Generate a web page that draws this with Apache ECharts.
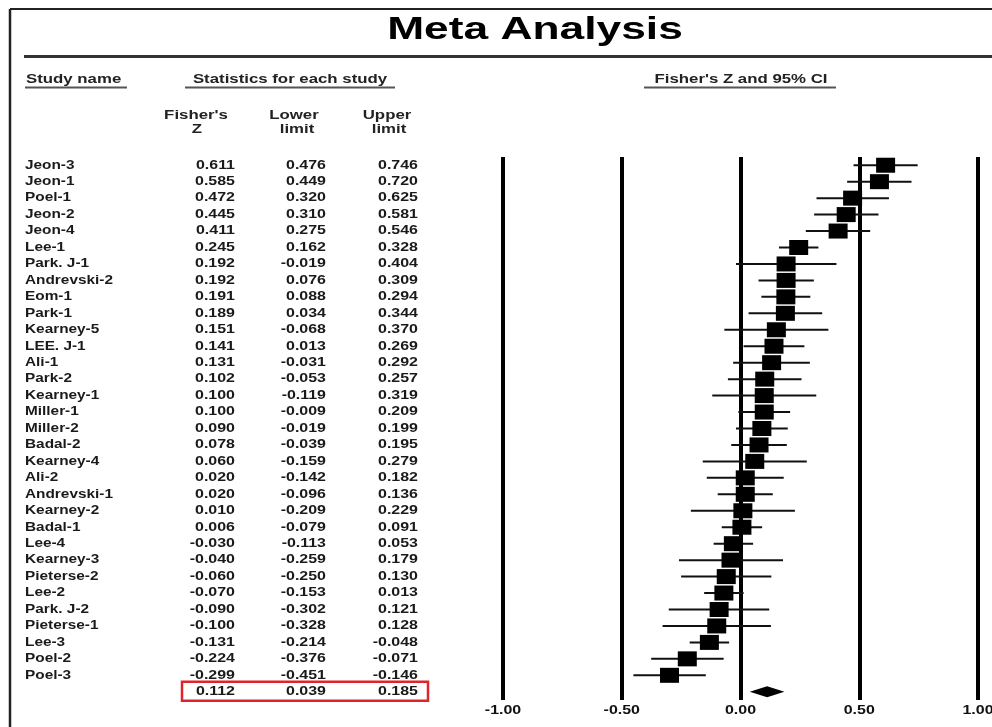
<!DOCTYPE html>
<html><head><meta charset="utf-8">
<script src="https://cdn.jsdelivr.net/npm/echarts@6/dist/echarts.min.js"></script>
<style>html,body{margin:0;padding:0;background:#fff}#c{width:992px;height:727px}</style>
</head><body><div id="c"></div>
<script>
// ---- data ----
const studies = ['Jeon-3','Jeon-1','Poel-1','Jeon-2','Jeon-4','Lee-1','Park. J-1','Andrevski-2','Eom-1','Park-1',
  'Kearney-5','LEE. J-1','Ali-1','Park-2','Kearney-1','Miller-1','Miller-2','Badal-2','Kearney-4','Ali-2',
  'Andrevski-1','Kearney-2','Badal-1','Lee-4','Kearney-3','Pieterse-2','Lee-2','Park. J-2','Pieterse-1','Lee-3',
  'Poel-2','Poel-3'];
const fisherZ = [0.611,0.585,0.472,0.445,0.411,0.245,0.192,0.192,0.191,0.189,
  0.151,0.141,0.131,0.102,0.100,0.100,0.090,0.078,0.060,0.020,
  0.020,0.010,0.006,-0.030,-0.040,-0.060,-0.070,-0.090,-0.100,-0.131,
  -0.224,-0.299];
const lowerLimit = [0.476,0.449,0.320,0.310,0.275,0.162,-0.019,0.076,0.088,0.034,
  -0.068,0.013,-0.031,-0.053,-0.119,-0.009,-0.019,-0.039,-0.159,-0.142,
  -0.096,-0.209,-0.079,-0.113,-0.259,-0.250,-0.153,-0.302,-0.328,-0.214,
  -0.376,-0.451];
const upperLimit = [0.746,0.720,0.625,0.581,0.546,0.328,0.404,0.309,0.294,0.344,
  0.370,0.269,0.292,0.257,0.319,0.209,0.199,0.195,0.279,0.182,
  0.136,0.229,0.091,0.053,0.179,0.130,0.013,0.121,0.128,-0.048,
  -0.071,-0.146];
const summaryValues = [0.112, 0.039, 0.185]; // Fisher's Z, lower, upper
const xTicks = [-1, -0.5, 0, 0.5, 1];
const xTickLabels = ['-1.00','-0.50','0.00','0.50','1.00'];

// ---- build ----
const FONT = "'Liberation Sans', Arial, sans-serif";
const SXN = 1.28, SX = 1.33, SXH = 1.4;
const nRows = studies.length + 1;
const rowIdx = Array.from({length:nRows}, (_, i) => i);
const studyData = studies.map((s, i) => [fisherZ[i], lowerLimit[i], upperLimit[i], i]);
const summaryIdx = studies.length;
const summaryData = [[summaryValues[0], summaryValues[1], summaryValues[2], summaryIdx]];

function txt(t, x, y, align, font, sx, fill) {
  return {type:'text', x:x, y:y, scaleX:sx, silent:true,
    style:{text:t, align:align, verticalAlign:'middle', textAlign:align, textVerticalAlign:'middle', font:font, fill:fill||'#1a1a1a'}};
}

const chart = echarts.init(document.getElementById('c'), null, {renderer:'canvas'});
const option = {
  animation:false,
  grid:{left:503, right:14, top:157, height:543},
  xAxis:{type:'value', min:-1, max:1, interval:0.5,
    axisLine:{show:false}, axisTick:{show:false}, axisLabel:{show:false},
    splitLine:{show:true, lineStyle:{color:'#000', width:4}}},
  yAxis:{type:'category', inverse:true, show:false, data:rowIdx},
  graphic:[
    {type:'line', shape:{x1:10,y1:9,x2:992,y2:9}, style:{stroke:'#222', lineWidth:2}},
    {type:'line', shape:{x1:10,y1:9,x2:10,y2:727}, style:{stroke:'#222', lineWidth:2.5}},
    {type:'line', shape:{x1:24,y1:56.5,x2:992,y2:56.5}, style:{stroke:'#333', lineWidth:3}},
    txt('Meta Analysis', 535, 30, 'center', 'bold 31px ' + FONT, 1.43, '#000'),
    txt('Study name', 26, 80, 'left', 'bold 12px ' + FONT, SXH, '#222'),
    txt('Statistics for each study', 290, 80, 'center', 'bold 12px ' + FONT, SXH, '#222'),
    txt("Fisher's Z and 95% CI", 741, 80, 'center', 'bold 12px ' + FONT, SXH, '#222'),
    {type:'line', shape:{x1:25,y1:87.5,x2:127,y2:87.5}, style:{stroke:'#555', lineWidth:2}},
    {type:'line', shape:{x1:185,y1:87.5,x2:395,y2:87.5}, style:{stroke:'#555', lineWidth:2}},
    {type:'line', shape:{x1:644,y1:87.5,x2:836,y2:87.5}, style:{stroke:'#555', lineWidth:2}},
    txt("Fisher's", 196, 116, 'center', 'bold 12px ' + FONT, SXH, '#222'),
    txt('Z', 197, 130, 'center', 'bold 12px ' + FONT, SXH, '#222'),
    txt('Lower', 294, 116, 'center', 'bold 12px ' + FONT, SXH, '#222'),
    txt('limit', 297, 130, 'center', 'bold 12px ' + FONT, SXH, '#222'),
    txt('Upper', 387, 116, 'center', 'bold 12px ' + FONT, SXH, '#222'),
    txt('limit', 389, 130, 'center', 'bold 12px ' + FONT, SXH, '#222')
  ],
  series:[
    { // forest plot markers
      type:'custom', clip:false, silent:true,
      data:studyData, encode:{x:[0,1,2], y:3},
      renderItem:function(params, api){
        const i = api.value(3);
        const c = api.coord([api.value(0), i]);
        const l = api.coord([api.value(1), i]);
        const h = api.coord([api.value(2), i]);
        return {type:'group', children:[
          {type:'line', shape:{x1:l[0], y1:c[1], x2:h[0], y2:c[1]}, style:{stroke:'#111', lineWidth:2}},
          {type:'rect', shape:{x:c[0]-9.5, y:c[1]-7.5, width:19, height:15}, style:{fill:'#000'}}
        ]};
      }
    },
    { // summary diamond
      type:'custom', clip:false, silent:true,
      data:summaryData, encode:{x:[0,1,2], y:3},
      renderItem:function(params, api){
        const i = api.value(3);
        const c = api.coord([api.value(0), i]);
        const l = api.coord([api.value(1), i]);
        const h = api.coord([api.value(2), i]);
        return {type:'polygon', shape:{points:[[l[0],c[1]],[c[0],c[1]-5.5],[h[0],c[1]],[c[0],c[1]+5.5]]}, style:{fill:'#000'}};
      }
    },
    { // table text for studies
      type:'custom', clip:false, silent:true,
      data:studyData, encode:{x:[0,1,2], y:3},
      renderItem:function(params, api){
        const i = api.value(3);
        const y = api.coord([0, i])[1];
        const f = 'bold 12px ' + FONT;
        return {type:'group', children:[
          txt(studies[i], 25, y, 'left', f, SXN),
          txt(api.value(0).toFixed(3), 235, y, 'right', f, SX),
          txt(api.value(1).toFixed(3), 326, y, 'right', f, SX),
          txt(api.value(2).toFixed(3), 418, y, 'right', f, SX)
        ]};
      }
    },
    { // summary text and red box
      type:'custom', clip:false, silent:true,
      data:summaryData, encode:{x:[0,1,2], y:3},
      renderItem:function(params, api){
        const i = api.value(3);
        const y = api.coord([0, i])[1];
        const f = 'bold 12px ' + FONT;
        return {type:'group', children:[
          {type:'rect', shape:{x:182, y:y-10, width:246, height:19}, style:{fill:'none', stroke:'#e0242c', lineWidth:2.5}},
          txt(api.value(0).toFixed(3), 235, y, 'right', f, SX),
          txt(api.value(1).toFixed(3), 326, y, 'right', f, SX),
          txt(api.value(2).toFixed(3), 418, y, 'right', f, SX)
        ]};
      }
    },
    { // x tick labels
      type:'custom', clip:false, silent:true,
      data:xTicks.map((v, k) => [v, k]), encode:{x:0},
      renderItem:function(params, api){
        const v = api.value(0);
        const p = api.coord([v, summaryIdx]);
        return txt(xTickLabels[api.value(1)], p[0], p[1] + 19, 'center', 'bold 12px ' + FONT, 1.33, '#111');
      }
    }
  ]
};
chart.setOption(option);
</script>
</body></html>
